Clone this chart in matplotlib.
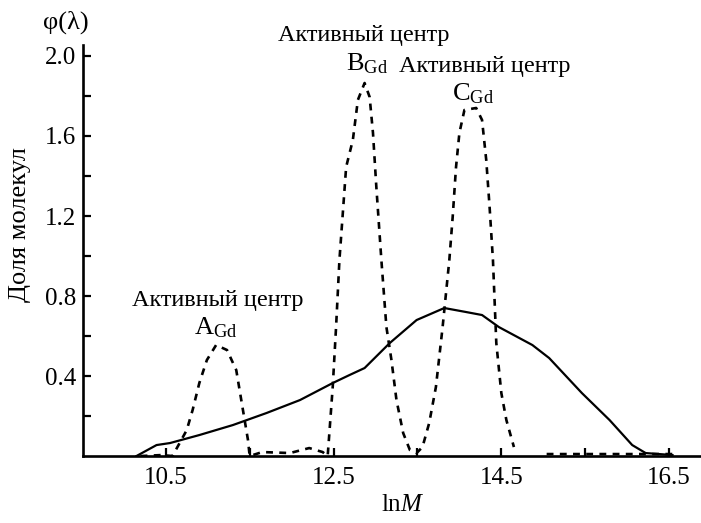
import numpy as np
import matplotlib.pyplot as plt

plt.rcParams['font.family'] = ['Liberation Serif', 'DejaVu Serif']
plt.rcParams['mathtext.fontset'] = 'custom'
plt.rcParams['mathtext.rm'] = 'Liberation Serif'
plt.rcParams['mathtext.it'] = 'Liberation Serif:italic'

# solid curve: molecular weight distribution
lnm_solid = [10.15, 10.39, 10.55, 10.9, 11.3, 11.7, 12.1, 12.49, 12.69, 12.87,
             13.17, 13.49, 13.82, 14.08, 14.27, 14.47, 14.87, 15.07, 15.46,
             15.79, 16.06, 16.22, 16.54]
phi_solid = [0.0, 0.055, 0.065, 0.105, 0.155, 0.215, 0.28, 0.365, 0.405, 0.44,
             0.565, 0.68, 0.74, 0.72, 0.705, 0.645, 0.555, 0.49, 0.315,
             0.18, 0.055, 0.015, 0.005]

# dashed curve: active centres A, B, C
lnm_dash = [10.2, 10.45, 10.58, 10.75, 10.82, 10.9, 10.99, 11.1, 11.23, 11.34,
            11.42, 11.48, 11.5, 11.65, 11.98, 12.21, 12.37, 12.43, 12.49,
            12.53, 12.57, 12.65, 12.73, 12.79, 12.87, 12.93, 12.97, 13.01,
            13.07, 13.13, 13.19, 13.25, 13.33, 13.41, 13.49, 13.56, 13.64,
            13.72, 13.8, 13.88, 13.92, 13.96, 14.0, 14.06, 14.2, 14.27, 14.32,
            14.36, 14.4, 14.44, 14.5, 14.56, 14.65,
            14.8, 15.04, 16.55]
phi_dash = [0.0, 0.005, 0.0, 0.13, 0.23, 0.365, 0.48, 0.555, 0.53, 0.43,
            0.23, 0.08, 0.0, 0.02, 0.015, 0.04, 0.02, 0.0, 0.345,
            0.645, 0.98, 1.445, 1.58, 1.78, 1.865, 1.795, 1.615, 1.345,
            0.98, 0.645, 0.48, 0.28, 0.115, 0.03, 0.015, 0.045, 0.165,
            0.345, 0.645, 0.98, 1.195, 1.445, 1.615, 1.73, 1.74, 1.68, 1.48,
            1.245, 0.98, 0.565, 0.315, 0.18, 0.045,
            np.nan, 0.01, 0.01]

xticks_major = [10.5, 12.5, 14.5, 16.5]
xticks_minor = [11.5, 13.5, 15.5]
yticks_major = [0.4, 0.8, 1.2, 1.6, 2.0]
yticks_minor = [0.2, 0.6, 1.0, 1.4, 1.8]

fig = plt.figure(figsize=(7.01, 5.23), dpi=100)
ax = fig.add_axes([0.118, 0.128, 0.882, 0.786])

ax.plot(lnm_solid, phi_solid, color='black', lw=1.6)
ax.plot(lnm_dash, phi_dash, color='black', lw=1.9, linestyle=(0, (2.6, 2.4)))

ax.set_xlim(9.51, 16.88)
ax.set_ylim(0, 2.055)
for s in ['top', 'right']:
    ax.spines[s].set_visible(False)
for s in ['left', 'bottom']:
    ax.spines[s].set_linewidth(1.9)

ax.set_xticks(xticks_major)
ax.set_xticklabels(['10.5', '12.5', '14.5', '16.5'])
ax.set_xticks(xticks_minor, minor=True)
ax.set_yticks(yticks_major)
ax.set_yticklabels(['0.4', '0.8', '1.2', '1.6', '2.0'])
ax.set_yticks(yticks_minor, minor=True)
ax.tick_params(which='both', direction='in', width=1.6, length=6, labelsize=18)
ax.tick_params(axis='x', pad=8)
ax.tick_params(axis='y', pad=5)

ax.set_xlabel('ln$\\mathit{M}$', fontsize=18)
ax.xaxis.set_label_coords(0.518, -0.093)
fig.text(0.029, 0.57, 'Доля молекул', fontsize=19, rotation=90,
         ha='center', va='center')
fig.text(0.094, 0.958, 'φ(λ)', fontsize=19, ha='center', va='center')

ann = dict(fontsize=17.5, ha='center', va='center')
sub = dict(fontsize=19, ha='center', va='center')
ax.text(11.12, 0.78, 'Активный центр', **ann)
ax.text(11.1, 0.64, 'A$_{\\mathrm{Gd}}$', **sub)
ax.text(12.86, 2.1, 'Активный центр', clip_on=False, **ann)
ax.text(12.9, 1.96, 'B$_{\\mathrm{Gd}}$', **sub)
ax.text(14.3, 1.945, 'Активный центр', **ann)
ax.text(14.16, 1.81, 'C$_{\\mathrm{Gd}}$', **sub)

fig.savefig('out.png', dpi=100)
